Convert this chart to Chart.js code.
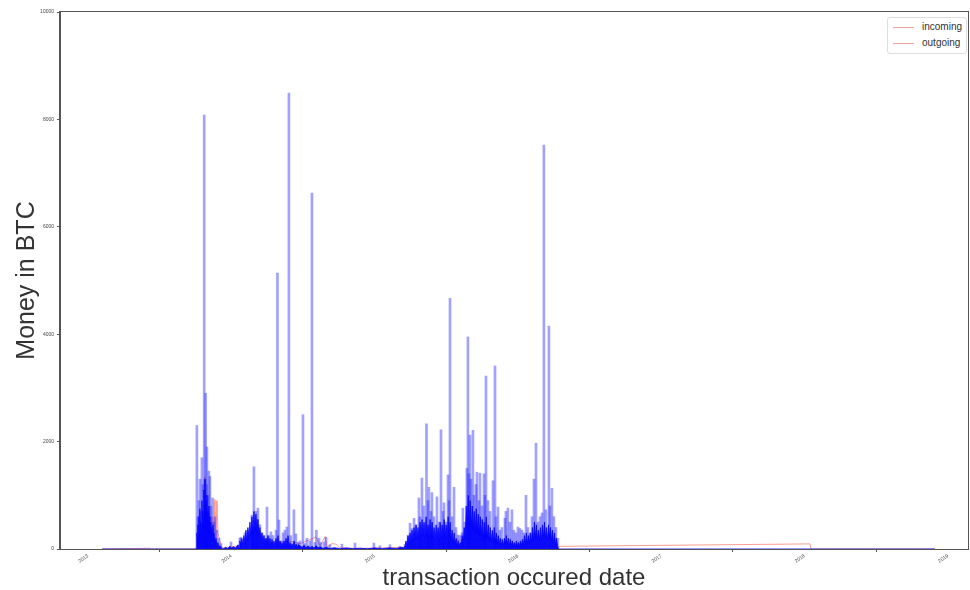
<!DOCTYPE html>
<html>
<head>
<meta charset="utf-8">
<script src="https://cdn.jsdelivr.net/npm/chart.js@4.4.1/dist/chart.umd.min.js"></script>
<style>
  html, body { margin: 0; padding: 0; background: #fff; }
  #wrap { position: relative; width: 970px; height: 590px; }
  #legend {
    position: absolute; left: 887px; top: 17px; width: 80px; height: 37px;
    border: 1px solid #ddd; border-radius: 3px; background: #fff; box-sizing: border-box;
    font-family: "Liberation Sans", Arial, sans-serif; font-size: 10px; color: #333;
  }
  .row { position: absolute; left: 5px; height: 12px; line-height: 12px; white-space: nowrap; }
  .swatch { display: inline-block; width: 21px; height: 1px; background: #f4a2a0; vertical-align: middle; margin-right: 8px; }
</style>
</head>
<body>
<div id="wrap">
  <canvas id="moneyChart" width="970" height="590"></canvas>
  <div id="legend">
    <div class="row" style="top:3px"><span class="swatch"></span>incoming</div>
    <div class="row" style="top:19px"><span class="swatch"></span>outgoing</div>
  </div>
</div>
<script>
// x values are decimal years
var yearTicks = [2013, 2014, 2015, 2016, 2017, 2018, 2019];

// incoming: individual spikes (BTC)
var spikeYears = [
  2013.760, 2013.767, 2013.774, 2013.781, 2013.788, 2013.795, 2013.802, 2013.811, 2013.816, 2013.821,
  2013.827, 2013.830, 2013.837, 2013.844, 2013.851, 2013.858, 2013.870, 2013.879, 2013.886, 2013.900,
  2013.914, 2013.928, 2013.998, 2014.060, 2014.067,
  2014.095, 2014.116, 2014.144, 2014.151, 2014.158, 2014.172, 2014.179, 2014.186, 2014.200, 2014.214,
  2014.228, 2014.242, 2014.249, 2014.263, 2014.277, 2014.291, 2014.312, 2014.322, 2014.333, 2014.347,
  2014.361, 2014.374, 2014.388, 2014.402, 2014.416, 2014.437, 2014.451, 2014.465, 2014.479, 2014.500,
  2014.514, 2014.528, 2014.549, 2014.563, 2014.584, 2014.594, 2014.612, 2014.626, 2014.647, 2014.661,
  2014.688, 2014.772, 2014.863, 2014.995, 2015.037, 2015.107, 2015.177,
  2015.212, 2015.233, 2015.247, 2015.261, 2015.275, 2015.289, 2015.309, 2015.316, 2015.330, 2015.344,
  2015.362, 2015.372, 2015.379, 2015.393, 2015.400, 2015.414, 2015.435, 2015.449, 2015.463, 2015.477,
  2015.484, 2015.498, 2015.512, 2015.519, 2015.526, 2015.540, 2015.554, 2015.568, 2015.581, 2015.595,
  2015.609, 2015.616, 2015.630, 2015.644, 2015.651, 2015.658, 2015.665, 2015.672, 2015.686, 2015.693,
  2015.707, 2015.714, 2015.728, 2015.735, 2015.749, 2015.763, 2015.770, 2015.777, 2015.791, 2015.805,
  2015.826, 2015.840, 2015.847, 2015.861, 2015.874, 2015.888, 2015.909, 2015.916, 2015.930, 2015.944,
  2015.958, 2015.972, 2015.986, 2016.000, 2016.014, 2016.028, 2016.042, 2016.056, 2016.070, 2016.084,
  2016.098, 2016.112, 2016.126, 2016.140, 2016.154, 2016.168, 2016.181, 2016.195, 2016.216, 2016.223,
  2016.237, 2016.251, 2016.265, 2016.279
];
var spikeValues = [
  2300, 600, 900, 1300, 700, 1700, 1200, 8080, 1300, 2900,
  1200, 1900, 1000, 1450, 1350, 800, 950, 500, 600, 350,
  200, 100, 130, 200, 220,
  300, 350, 630, 400, 1530, 700, 550, 760, 450, 300,
  250, 200, 780, 250, 320, 250, 350, 5140, 540, 150,
  300, 350, 410, 8490, 250, 730, 280, 120, 150, 2500,
  100, 200, 150, 6630, 120, 350, 200, 120, 130, 220,
  80, 90, 110, 110, 60, 80, 50,
  80, 250, 480, 380, 570, 450, 950, 600, 1320, 800,
  2330, 900, 1150, 700, 1050, 600, 970, 500, 2220, 700,
  860, 500, 1380, 900, 4670, 600, 1150, 400, 260, 250,
  300, 760, 500, 1500, 3950, 1400, 2120, 1300, 2210, 1000,
  1200, 1430, 900, 1410, 800, 1400, 1000, 3220, 900, 700,
  1270, 3410, 600, 780, 350, 400, 570, 700, 760, 500,
  730, 350, 300, 410, 380, 350, 300, 1000, 400, 300,
  600, 1300, 1970, 500, 600, 670, 7520, 730, 4150, 800,
  1130, 600, 400, 200
];

// incoming: dense body of the series (read as a jagged profile)
var baseYears = [
  2013.098, 2013.754, 2013.760, 2013.764, 2013.767, 2013.771, 2013.774, 2013.778, 2013.781, 2013.785,
  2013.788, 2013.792, 2013.795, 2013.799, 2013.802, 2013.806, 2013.809, 2013.813, 2013.816, 2013.820,
  2013.823, 2013.827, 2013.830, 2013.834, 2013.837, 2013.841, 2013.844, 2013.848, 2013.851, 2013.855,
  2013.858, 2013.862, 2013.865, 2013.869, 2013.872, 2013.876, 2013.879, 2013.886, 2013.893, 2013.900,
  2013.907, 2013.914, 2013.921, 2013.935, 2013.942, 2013.960, 2013.975, 2013.990, 2014.000, 2014.015,
  2014.030, 2014.047, 2014.054, 2014.060, 2014.067, 2014.074, 2014.081, 2014.088, 2014.095, 2014.102,
  2014.109, 2014.116, 2014.123, 2014.130, 2014.137, 2014.144, 2014.151, 2014.158, 2014.165, 2014.172,
  2014.179, 2014.186, 2014.193, 2014.200, 2014.207, 2014.214, 2014.221, 2014.228, 2014.235, 2014.242,
  2014.249, 2014.256, 2014.263, 2014.270, 2014.277, 2014.284, 2014.291, 2014.298, 2014.305, 2014.312,
  2014.319, 2014.326, 2014.333, 2014.340, 2014.347, 2014.354, 2014.361, 2014.368, 2014.375, 2014.382,
  2014.389, 2014.396, 2014.403, 2014.410, 2014.417, 2014.424, 2014.431, 2014.438, 2014.445, 2014.452,
  2014.459, 2014.466, 2014.480, 2014.494, 2014.508, 2014.522, 2014.536, 2014.550, 2014.564, 2014.578,
  2014.592, 2014.606, 2014.620, 2014.640, 2014.660, 2014.690, 2014.720, 2014.760, 2014.800, 2014.850,
  2014.900, 2014.950, 2015.000, 2015.050, 2015.100, 2015.150, 2015.190, 2015.205,
  2015.212, 2015.219, 2015.226, 2015.233, 2015.240, 2015.247, 2015.254, 2015.261, 2015.268, 2015.275,
  2015.282, 2015.289, 2015.296, 2015.303, 2015.310, 2015.317, 2015.324, 2015.331, 2015.338, 2015.345,
  2015.352, 2015.359, 2015.366, 2015.373, 2015.380, 2015.387, 2015.394, 2015.401, 2015.408, 2015.415,
  2015.422, 2015.429, 2015.436, 2015.443, 2015.450, 2015.457, 2015.464, 2015.471, 2015.478, 2015.485,
  2015.492, 2015.499, 2015.506, 2015.513, 2015.520, 2015.527, 2015.534, 2015.541, 2015.548, 2015.555,
  2015.562, 2015.569, 2015.576, 2015.583, 2015.590, 2015.597, 2015.604, 2015.611, 2015.618, 2015.625,
  2015.632, 2015.639, 2015.646, 2015.653, 2015.660, 2015.667, 2015.674, 2015.681, 2015.688, 2015.695,
  2015.702, 2015.709, 2015.716, 2015.723, 2015.730, 2015.737, 2015.744, 2015.751, 2015.758, 2015.765,
  2015.772, 2015.779, 2015.786, 2015.793, 2015.800, 2015.807, 2015.814, 2015.821, 2015.828, 2015.835,
  2015.842, 2015.849, 2015.856, 2015.863, 2015.870, 2015.877, 2015.884, 2015.891, 2015.898, 2015.905,
  2015.912, 2015.919, 2015.926, 2015.933, 2015.940, 2015.947, 2015.954, 2015.961, 2015.968, 2015.975,
  2015.982, 2015.989, 2015.996, 2016.003, 2016.010, 2016.017, 2016.024, 2016.031, 2016.038, 2016.045,
  2016.052, 2016.059, 2016.066, 2016.073, 2016.080, 2016.087, 2016.094, 2016.101, 2016.108, 2016.115,
  2016.122, 2016.129, 2016.136, 2016.143, 2016.150, 2016.157, 2016.164, 2016.171, 2016.178, 2016.185,
  2016.192, 2016.199, 2016.206, 2016.213, 2016.220, 2016.227, 2016.234, 2016.241, 2016.248, 2016.255,
  2016.262, 2016.269, 2016.276, 2016.283, 2018.909
];
var baseValues = [
  0, 0, 300, 80, 450, 150, 600, 250, 750, 300,
  500, 200, 900, 350, 700, 400, 1100, 500, 1300, 450,
  900, 400, 1000, 350, 700, 300, 800, 250, 600, 200,
  500, 150, 400, 120, 450, 100, 300, 80, 200, 50,
  120, 30, 60, 10, 0, 30, 10, 50, 15, 40,
  20, 80, 30, 150, 60, 200, 80, 250, 100, 350,
  150, 400, 200, 500, 250, 600, 300, 700, 350, 650,
  300, 550, 250, 400, 150, 300, 100, 250, 80, 200,
  100, 250, 80, 200, 60, 180, 60, 150, 50, 200,
  60, 250, 70, 150, 50, 120, 40, 150, 50, 200,
  60, 250, 50, 120, 40, 100, 30, 150, 40, 90,
  20, 80, 60, 30, 70, 20, 60, 20, 50, 15,
  60, 20, 40, 10, 30, 10, 25, 5, 20, 5,
  15, 5, 20, 5, 20, 10, 30, 20,
  60, 150, 60, 250, 100, 300, 120, 350, 150, 400,
  180, 450, 200, 400, 180, 500, 220, 550, 250, 500,
  200, 600, 250, 450, 200, 550, 220, 500, 200, 400,
  150, 450, 200, 400, 150, 500, 200, 450, 180, 550,
  200, 450, 180, 600, 250, 500, 150, 350, 100, 300,
  80, 200, 60, 150, 50, 120, 60, 250, 100, 400,
  200, 800, 400, 1000, 450, 900, 400, 800, 350, 700,
  300, 750, 300, 650, 250, 600, 250, 550, 200, 500,
  200, 600, 200, 450, 150, 400, 150, 350, 120, 400,
  120, 300, 100, 250, 80, 200, 60, 180, 60, 200,
  80, 250, 80, 200, 60, 180, 50, 150, 50, 120,
  40, 150, 50, 120, 40, 150, 50, 180, 60, 250,
  80, 300, 100, 250, 100, 300, 120, 400, 150, 500,
  200, 450, 180, 350, 150, 400, 150, 450, 200, 500,
  200, 400, 150, 450, 200, 400, 150, 350, 100, 300,
  80, 200, 50, 0, 0
];

// outgoing (BTC)
var outYears = [
  2013.098, 2013.433, 2013.440, 2013.754, 2013.781, 2013.795, 2013.816, 2013.827, 2013.837, 2013.851,
  2013.865, 2013.879, 2013.886, 2013.893, 2013.900, 2013.907, 2013.921, 2013.935, 2014.060, 2014.095,
  2014.123, 2014.144, 2014.214, 2014.270, 2014.402, 2014.479, 2014.591, 2014.619, 2014.654, 2014.668,
  2014.702, 2014.730, 2014.758, 2014.898, 2015.177, 2015.386, 2015.665, 2015.874, 2016.154, 2016.279,
  2016.293, 2018.037, 2018.044, 2018.909
];
var outValues = [
  0, 15, 0, 0, 400, 100, 1340, 200, 700, 300,
  600, 200, 920, 100, 900, 300, 150, 20, 60, 200,
  150, 300, 200, 100, 150, 100, 220, 60, 230, 30,
  100, 90, 20, 10, 30, 50, 200, 100, 80, 40,
  50, 95, 0, 0
];

function pairs(xs, ys) {
  return xs.map(function (x, i) { return { x: x, y: ys[i] }; });
}

var framePlugin = {
  id: "frame",
  afterDraw: function (chart) {
    var a = chart.chartArea, ctx = chart.ctx;
    ctx.save();
    ctx.strokeStyle = "#555";
    ctx.lineWidth = 1;
    ctx.strokeRect(Math.round(a.left) - 0.5, Math.round(a.top) - 0.5,
      Math.round(a.right - a.left) + 1, Math.round(a.bottom - a.top) + 1);
    ctx.restore();
  }
};

var ctx = document.getElementById("moneyChart").getContext("2d");
var myChart = new Chart(ctx, {
  type: "line",
  data: {
    datasets: [
      {
        label: "outgoing",
        data: pairs(outYears, outValues),
        borderColor: "rgba(255,60,40,0.5)",
        borderWidth: 1,
        pointRadius: 0,
        fill: false,
        order: 3,
      },
      {
        type: "bar",
        label: "incoming",
        data: pairs(spikeYears, spikeValues),
        backgroundColor: "rgba(30,30,255,0.42)",
        barThickness: 2,
        order: 2,
      },
      {
        label: "incoming",
        data: pairs(baseYears, baseValues),
        borderColor: "rgba(0,0,255,0.8)",
        backgroundColor: "rgba(0,0,250,0.92)",
        borderWidth: 1,
        pointRadius: 0,
        fill: "origin",
        order: 1,
      },
    ],
  },
  options: {
    responsive: false,
    animation: false,
    layout: { padding: { left: 0, right: 2, top: 12, bottom: 0 } },
    scales: {
      x: {
        type: "linear",
        min: 2012.805,
        max: 2019.14,
        offset: false,
        afterBuildTicks: function (scale) {
          scale.ticks = yearTicks.map(function (v) { return { value: v }; });
        },
        afterFit: function (scale) { scale.height = 41; },
        ticks: {
          minRotation: 35,
          maxRotation: 35,
          padding: 1,
          color: "#444",
          font: { family: "Liberation Sans", size: 5 },
          callback: function (v) { return String(v); },
        },
        grid: { drawOnChartArea: false, drawTicks: true, tickLength: 3, color: "#555" },
        border: { color: "#555" },
        title: {
          display: true,
          text: "transaction occured date",
          color: "#333",
          font: { family: "Liberation Sans", size: 24, lineHeight: 1 },
          padding: 0,
        },
      },
      y: {
        min: 0,
        max: 10000,
        afterFit: function (scale) { scale.width = 60; },
        ticks: {
          stepSize: 2000,
          padding: 3,
          color: "#444",
          font: { family: "Liberation Sans", size: 5 },
          callback: function (v) { return String(v); },
        },
        grid: { drawOnChartArea: false, drawTicks: true, tickLength: 3, color: "#555" },
        border: { color: "#555" },
        title: {
          display: true,
          text: "Money in BTC",
          color: "#333",
          font: { family: "Liberation Sans", size: 25, lineHeight: 1.2 },
          padding: 12,
        },
      },
    },
    plugins: {
      legend: { display: false },
      tooltip: { enabled: false },
    },
  },
  plugins: [framePlugin],
});
</script>
</body>
</html>
